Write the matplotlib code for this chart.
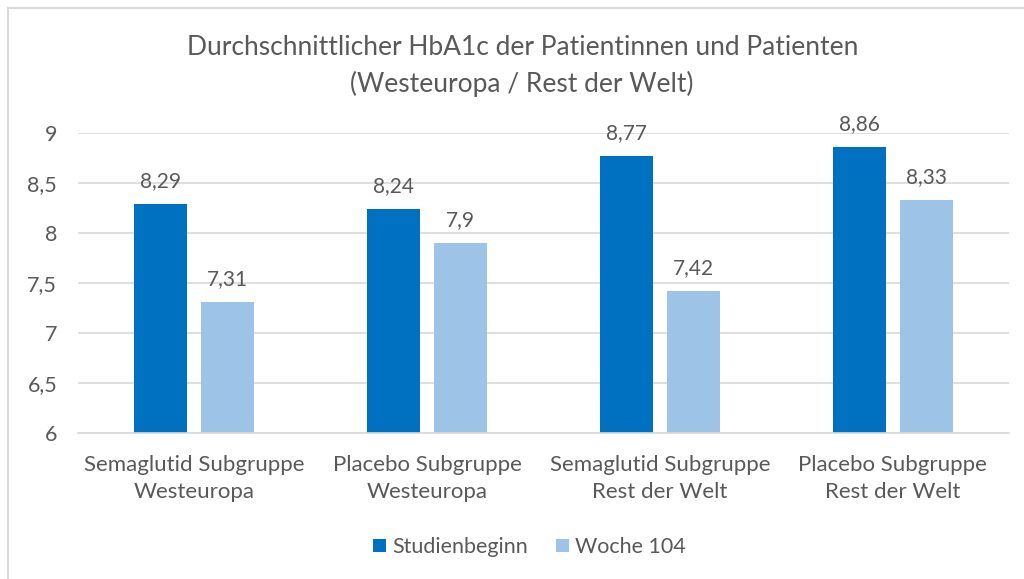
import matplotlib
matplotlib.use("Agg")
import matplotlib.pyplot as plt
import numpy as np

plt.rcParams['font.family'] = ['Lato', 'DejaVu Sans']

categories = ["Semaglutid Subgruppe\nWesteuropa", "Placebo Subgruppe\nWesteuropa",
              "Semaglutid Subgruppe\nRest der Welt", "Placebo Subgruppe\nRest der Welt"]
studienbeginn = [8.29, 8.24, 8.77, 8.86]
woche104 = [7.31, 7.9, 7.42, 8.33]
labels_a = ["8,29", "8,24", "8,77", "8,86"]
labels_b = ["7,31", "7,9", "7,42", "8,33"]
yticks = [6, 6.5, 7, 7.5, 8, 8.5, 9]
yticklabels = ["6", "6,5", "7", "7,5", "8", "8,5", "9"]

grey = '#595959'
dark = '#0070C0'
light = '#9DC3E6'

fig = plt.figure(figsize=(10.24, 5.79), dpi=100)
ax = fig.add_axes([78 / 1024, 1 - 433 / 579, 931 / 1024, 300 / 579])

x = np.arange(len(categories))
w = 0.228
off = 0.144
ax.bar(x - off, np.array(studienbeginn) - 6, w, bottom=6, color=dark, label='Studienbeginn')
ax.bar(x + off, np.array(woche104) - 6, w, bottom=6, color=light, label='Woche 104')

for xi, v, t in zip(x - off, studienbeginn, labels_a):
    ax.annotate(t, (xi, v), xytext=(0, 9), textcoords='offset points',
                ha='center', va='bottom', fontsize=15, color=grey)
for xi, v, t in zip(x + off, woche104, labels_b):
    ax.annotate(t, (xi, v), xytext=(0, 9), textcoords='offset points',
                ha='center', va='bottom', fontsize=15, color=grey)

ax.set_xlim(-0.5, 3.5)
ax.set_ylim(6, 9)
ax.set_yticks(yticks)
ax.set_yticklabels(yticklabels, fontsize=15.5, color=grey)
ax.set_xticks(x)
ax.set_xticklabels(categories, fontsize=16, color=grey, linespacing=1.45)
ax.tick_params(axis='y', length=0, pad=15)
ax.tick_params(axis='x', length=0, pad=16)
ax.grid(axis='y', color='#D9D9D9', linewidth=1.2)
ax.set_axisbelow(True)
for s in ['top', 'right', 'left']:
    ax.spines[s].set_visible(False)
ax.spines['bottom'].set_color('#D9D9D9')
ax.spines['bottom'].set_linewidth(1.2)

fig.text(0.51, 1 - 66 / 579, "Durchschnittlicher HbA1c der Patientinnen und Patienten\n(Westeuropa / Rest der Welt)",
         ha='center', va='center', fontsize=19, color=grey, linespacing=1.55)

ax.legend(loc='center', bbox_to_anchor=(0.485, -114 / 300), ncol=2, frameon=False,
          fontsize=15.5, labelcolor=grey, handlelength=0.6, handleheight=0.6,
          handletextpad=0.3, columnspacing=1.3)

fig.patches.append(plt.Rectangle((8 / 1024, -0.1), 1.2, 0.1 + 1 - 8 / 579, transform=fig.transFigure,
                                 fill=False, edgecolor='#D9D9D9', linewidth=1.5))

fig.savefig('out.png', dpi=100)
